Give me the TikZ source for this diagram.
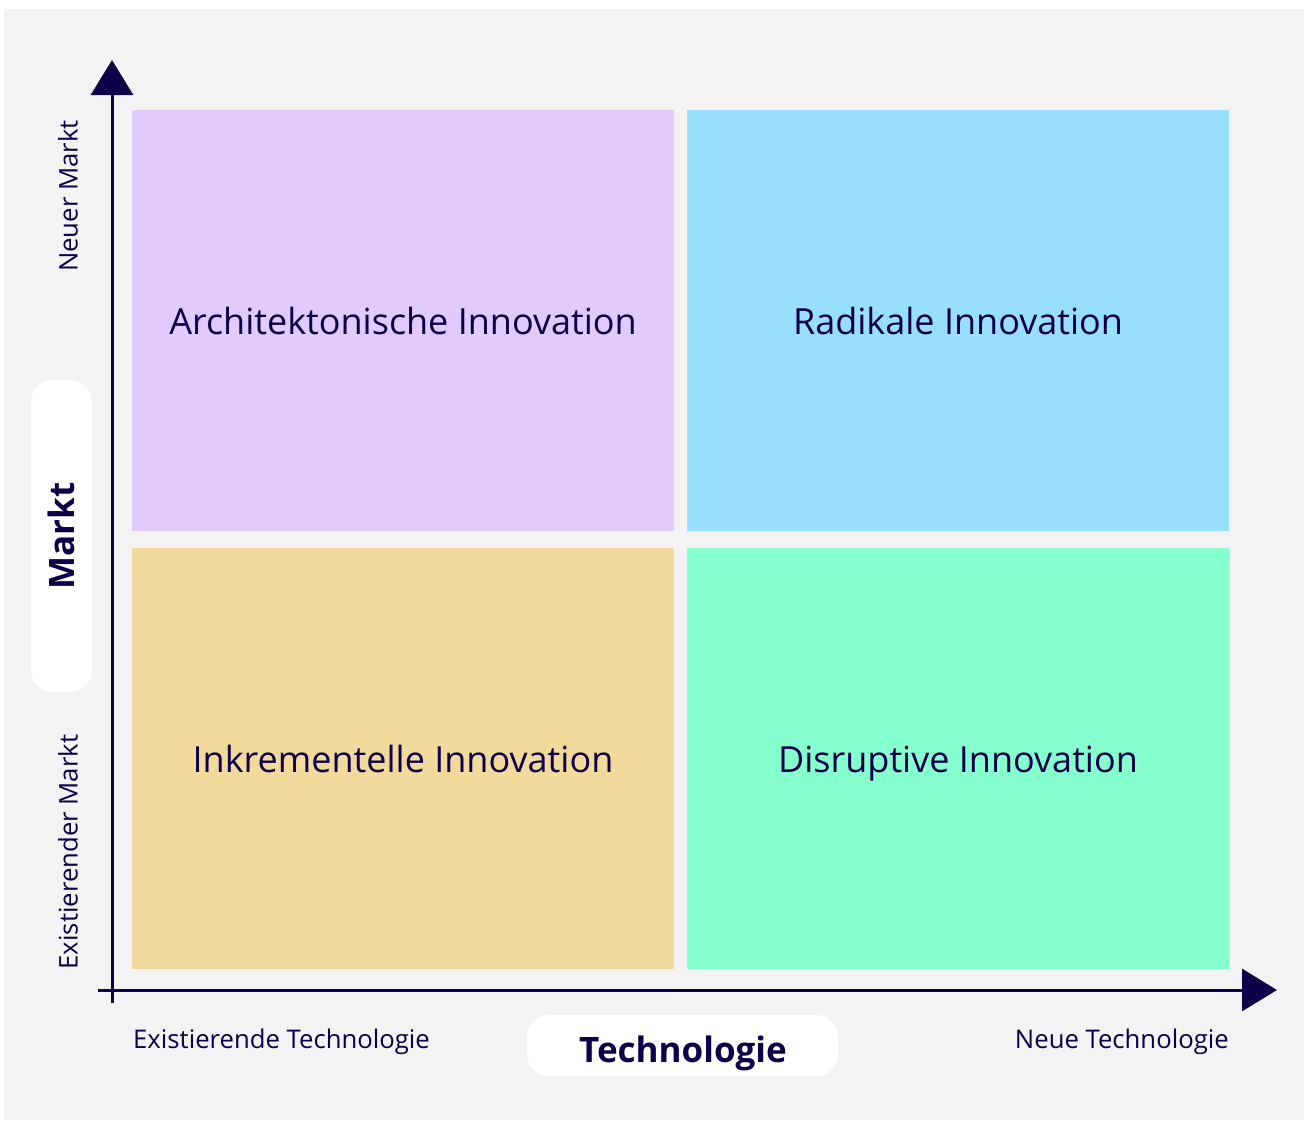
\documentclass[tikz,border=0pt]{standalone}
\usepackage{fontspec}
\setmainfont{Open Sans}
\usetikzlibrary{arrows.meta}

\tikzset{
  quad/.style={minimum width=542pt, minimum height=421pt, inner sep=0pt,
    text height=27pt, text depth=0pt,
    text=navy, font=\fontsize{36}{40}\selectfont},
  pill/.style={fill=white, rounded corners=22pt, inner sep=0pt},
  axislabel/.style={text=navy, font=\fontsize{25.7}{30}\selectfont, inner sep=0pt},
  axistitle/.style={text=navy, font=\bfseries\fontsize{35}{40}\selectfont, inner sep=0pt,
    text height=26pt, text depth=0pt},
  axisline/.style={navy, line width=3pt, -{Triangle[width=42pt,length=35pt]}}
}

\begin{document}
\begin{tikzpicture}[x=1pt,y=-1pt]
    % farben
    \definecolor{navy}{HTML}{0D0048}
    \definecolor{bg}{HTML}{F3F3F3}
    \definecolor{lila}{HTML}{E0CAFE}
    \definecolor{hellblau}{HTML}{97DFFC}
    \definecolor{sand}{HTML}{F2D99C}
    \definecolor{mint}{HTML}{85FFCD}

    % hintergrund
    \useasboundingbox (0,0) rectangle (1304,1120);
    \fill[bg] (4,9) rectangle (1304,1120);

    % felder
    \node[quad, fill=lila] (arch) at (403,320.5) {Architektonische Innovation};
    \node[quad, fill=hellblau] (radi) at (958,320.5) {Radikale Innovation};
    \node[quad, fill=sand] (inkr) at (403,758.5) {Inkrementelle Innovation};
    \node[quad, fill=mint] (disr) at (958,758.5) {Disruptive Innovation};

    % achsen
    \coordinate (ybot) at (112,1003);
    \coordinate (ytop) at (112,60);
    \coordinate (xleft) at (98,990);
    \coordinate (xright) at (1277,990);
    \draw[axisline] (ybot) -- (ytop);
    \draw[axisline] (xleft) -- (xright);

    % achsentitel
    \node[pill, minimum width=61pt, minimum height=312pt] (marktbox) at (61.5,536) {};
    \node[axistitle, rotate=90] (markt) at (marktbox) {Markt};
    \node[pill, minimum width=311pt, minimum height=61pt] (techbox) at (682.5,1045.5) {};
    \node[axistitle] (tech) at (683,1049) {Technologie};

    % beschriftung
    \node[axislabel, rotate=90] (neumarkt) at (68,196) {Neuer Markt};
    \node[axislabel, rotate=90] (altmarkt) at (68,852) {Existierender Markt};
    \node[axislabel, anchor=base west] (alttech) at (133,1048) {Existierende Technologie};
    \node[axislabel, anchor=base east] (neutech) at (1229,1048) {Neue Technologie};
\end{tikzpicture}
\end{document}
